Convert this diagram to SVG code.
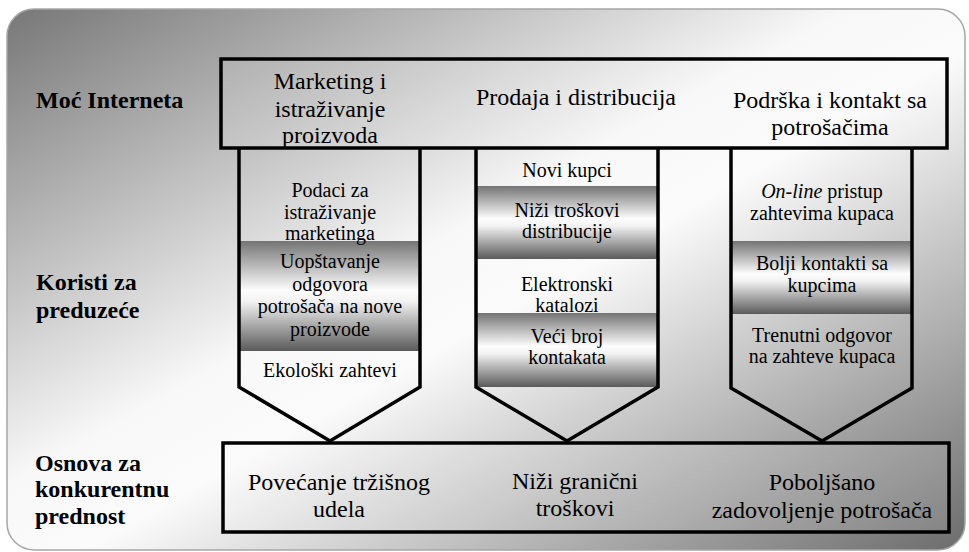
<svg xmlns="http://www.w3.org/2000/svg" width="969" height="552" viewBox="0 0 969 552">
  <defs>
    <!-- diagonal backdrop: dark corners, light band through the other diagonal -->
    <linearGradient id="bg" x1="0" y1="0" x2="1" y2="1">
      <stop offset="0" stop-color="#777777"/>
      <stop offset="0.44" stop-color="#f8f8f8"/>
      <stop offset="0.54" stop-color="#fbfbfb"/>
      <stop offset="1" stop-color="#6c6c6c"/>
    </linearGradient>
    <!-- metallic horizontal band -->
    <linearGradient id="band" x1="0" y1="0" x2="0" y2="1">
      <stop offset="0" stop-color="#747474"/>
      <stop offset="0.45" stop-color="#fdfdfd"/>
      <stop offset="0.55" stop-color="#f2f2f2"/>
      <stop offset="1" stop-color="#5a5a5a"/>
    </linearGradient>
    <style>
      text { font-family: "Liberation Serif", "Times New Roman", serif; fill: #000; }
      .frame { fill: none; stroke: #000; stroke-width: 3.5; stroke-linejoin: miter; }
      .box { fill: #ffffff; fill-opacity: 0.12; stroke: #000; stroke-width: 3.5; }
      .big { font-size: 24px; text-anchor: middle; }
      .small { font-size: 20px; text-anchor: middle; }
      .label { font-size: 24px; font-weight: bold; }
    </style>
  </defs>

  <!-- backdrop panel -->
  <rect x="7" y="9" width="958" height="541" rx="27" ry="27" fill="url(#bg)" stroke="#a6a6a6" stroke-width="1.5"/>

  <!-- row labels -->
  <g id="row-labels">
    <text class="label" x="36" y="108">Moć Interneta</text>
    <text class="label" x="36" y="290">Koristi za</text>
    <text class="label" x="36" y="318">preduzeće</text>
    <text class="label" x="35" y="471">Osnova za</text>
    <text class="label" x="35" y="497">konkurentnu</text>
    <text class="label" x="35" y="524">prednost</text>
  </g>

  <!-- arrow 1: marketing -->
  <g id="arrow-marketing">
    <rect x="239" y="241" width="181" height="110" fill="url(#band)"/>
    <path class="frame" d="M239,148 L239,387 L330,441 L420,387 L420,148"/>
    <text class="small" x="330" y="197">Podaci za</text>
    <text class="small" x="330" y="219">istraživanje</text>
    <text class="small" x="330" y="240">marketinga</text>
    <text class="small" x="330" y="268">Uopštavanje</text>
    <text class="small" x="330" y="291">odgovora</text>
    <text class="small" x="330" y="313">potrošača na nove</text>
    <text class="small" x="330" y="336">proizvode</text>
    <text class="small" x="330" y="377">Ekološki zahtevi</text>
  </g>

  <!-- arrow 2: sales -->
  <g id="arrow-prodaja">
    <rect x="476" y="186" width="182" height="73" fill="url(#band)"/>
    <rect x="476" y="313" width="182" height="74" fill="url(#band)"/>
    <path class="frame" d="M476,148 L476,387 L567,441 L658,387 L658,148"/>
    <text class="small" x="567" y="177">Novi kupci</text>
    <text class="small" x="567" y="217">Niži troškovi</text>
    <text class="small" x="567" y="238">distribucije</text>
    <text class="small" x="567" y="291">Elektronski</text>
    <text class="small" x="567" y="312">katalozi</text>
    <text class="small" x="567" y="343">Veći broj</text>
    <text class="small" x="567" y="364">kontakata</text>
  </g>

  <!-- arrow 3: support -->
  <g id="arrow-podrska">
    <rect x="731" y="241" width="181" height="73" fill="url(#band)"/>
    <path class="frame" d="M731,148 L731,388 L822,441 L912,388 L912,148"/>
    <text class="small" x="822" y="198"><tspan font-style="italic">On-line</tspan> pristup</text>
    <text class="small" x="822" y="220">zahtevima kupaca</text>
    <text class="small" x="822" y="270">Bolji kontakti sa</text>
    <text class="small" x="822" y="292">kupcima</text>
    <text class="small" x="822" y="342">Trenutni odgovor</text>
    <text class="small" x="822" y="363">na zahteve kupaca</text>
  </g>

  <!-- top bar -->
  <g id="top-bar">
    <rect class="box" x="221" y="59" width="726" height="89"/>
    <text class="big" x="330" y="89">Marketing i</text>
    <text class="big" x="330" y="117">istraživanje</text>
    <text class="big" x="330" y="143">proizvoda</text>
    <text class="big" x="576" y="105">Prodaja i distribucija</text>
    <text class="big" x="830" y="108">Podrška i kontakt sa</text>
    <text class="big" x="830" y="135">potrošačima</text>
  </g>

  <!-- bottom bar -->
  <g id="bottom-bar">
    <rect class="box" x="223" y="443" width="726" height="89"/>
    <text class="big" x="339" y="490">Povećanje tržišnog</text>
    <text class="big" x="339" y="517">udela</text>
    <text class="big" x="575" y="489">Niži granični</text>
    <text class="big" x="575" y="516">troškovi</text>
    <text class="big" x="822" y="490">Poboljšano</text>
    <text class="big" x="822" y="518">zadovoljenje potrošača</text>
  </g>
</svg>
